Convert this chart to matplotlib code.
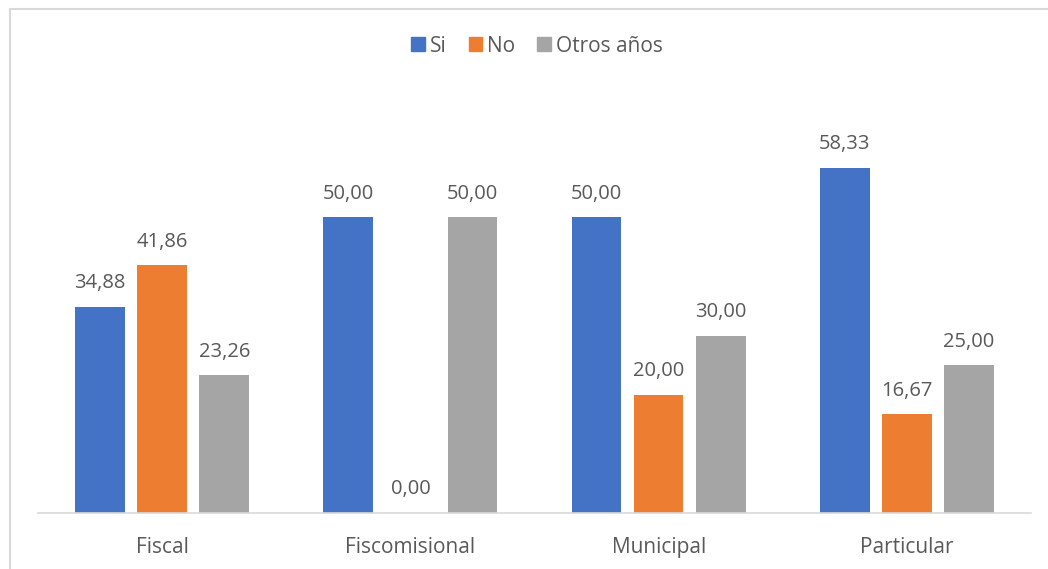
import matplotlib
matplotlib.use("Agg")
import matplotlib.pyplot as plt
from matplotlib.lines import Line2D
from matplotlib.patches import Patch
import numpy as np

categories = ["Fiscal", "Fiscomisional", "Municipal", "Particular"]
series_names = ["Si", "No", "Otros años"]
si = [34.88, 50.00, 50.00, 58.33]
no = [41.86, 0.00, 20.00, 16.67]
otros = [23.26, 50.00, 30.00, 25.00]
colors = ["#4472C4", "#ED7D31", "#A5A5A5"]

plt.rcParams['font.family'] = ['Open Sans', 'DejaVu Sans']
W, H = 1048, 569
fig = plt.figure(figsize=(W/100, H/100), dpi=100)
ax = fig.add_axes([38/W, 1-513/H, (1031-38)/W, (513-99)/H])

x = np.arange(len(categories))
width = 0.2
offsets = [-0.25, 0, 0.25]
txt = "#595959"
for vals, off, col, name in zip([si, no, otros], offsets, colors, series_names):
    bars = ax.bar(x + off, vals, width, color=col, label=name)
    for b, v in zip(bars, vals):
        ax.text(b.get_x() + b.get_width()/2, v + 2.3, f"{v:.2f}".replace(".", ","),
                ha="center", va="bottom", fontsize=14.5, color=txt)

ax.set_xlim(-0.5, 3.5)
ax.set_ylim(0, 70)
ax.set_yticks([])
ax.set_xticks(x)
ax.set_xticklabels(categories, fontsize=15, color=txt)
ax.tick_params(axis="x", length=0, pad=17)
for s in ["top", "right", "left"]:
    ax.spines[s].set_visible(False)
ax.spines["bottom"].set_color("#d9d9d9")
ax.spines["bottom"].set_linewidth(1.2)

handles = [Patch(color=c, label=n) for c, n in zip(colors, series_names)]
fig.legend(handles=handles, loc="center", bbox_to_anchor=(537/W, 1-46/H), ncol=3,
           frameon=False, fontsize=15, labelcolor=txt, handlelength=0.65, handleheight=0.65,
           handletextpad=0.25, columnspacing=1.05)

# chart border (left and top visible)
fig.add_artist(Line2D([9.5/W, 9.5/W, 1.0], [0.0, 1-8.5/H, 1-8.5/H],
                      transform=fig.transFigure, color="#d9d9d9", linewidth=1.5))

fig.savefig("out.png", dpi=100)
